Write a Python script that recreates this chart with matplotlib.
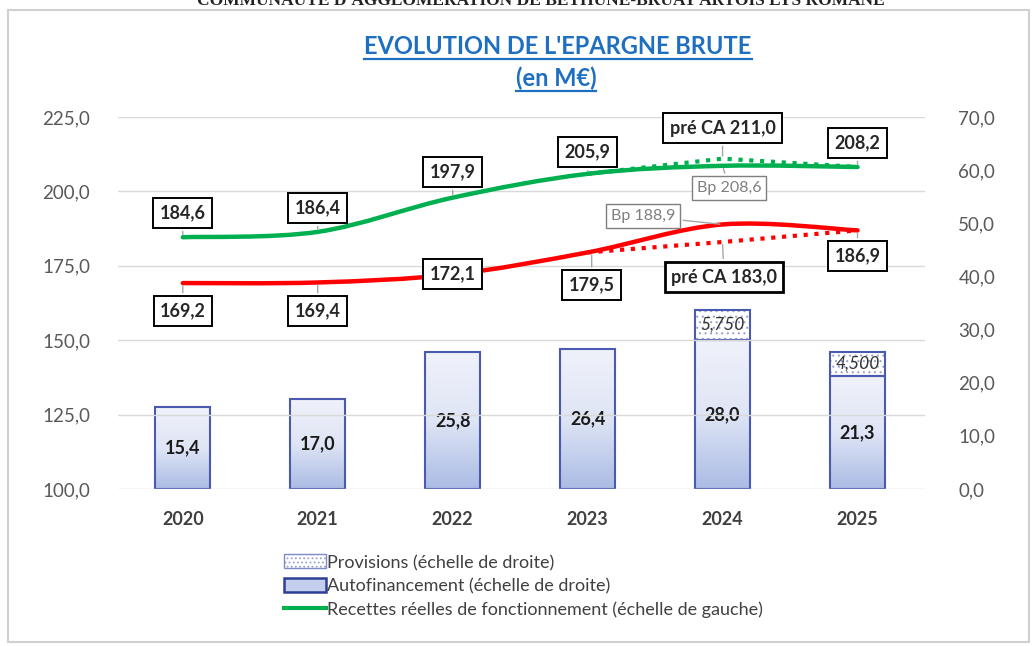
import numpy as np
import matplotlib
matplotlib.use("Agg")
import matplotlib.pyplot as plt
from matplotlib.path import Path
from matplotlib.patches import PathPatch, Rectangle, Patch
from matplotlib.lines import Line2D
from matplotlib.legend_handler import HandlerBase

plt.rcParams['font.family'] = ['Lato', 'DejaVu Sans']
plt.rcParams['hatch.linewidth'] = 0.8

# --- data (M€) ---
years = ["2020", "2021", "2022", "2023", "2024", "2025"]
autofinancement = [15.4, 17.0, 25.8, 26.4, 28.0, 21.3]
provisions = [0, 0, 0, 0, 5.750, 4.500]
recettes = [184.6, 186.4, 197.9, 205.9, 208.6, 208.2]
depenses = [169.2, 169.4, 172.1, 179.5, 188.9, 186.9]
recettes_preca = [205.9, 211.0, 208.2]
depenses_preca = [179.5, 183.0, 186.9]
preca_idx = [3, 4, 5]

GREEN = "#00B050"
RED = "#FF0000"
BAR_EDGE = "#4a5ab0"
HATCH = "#9aa4cc"
TXT = "#404040"


def smooth_path(xs, ys):
    # Catmull-Rom style bezier, like spreadsheet "smoothed line"
    xs = np.asarray(xs, float)
    ys = np.asarray(ys, float)
    pts = np.column_stack([xs, ys])
    n = len(pts)
    verts = [pts[0]]
    codes = [Path.MOVETO]
    for i in range(n - 1):
        p0 = pts[max(i - 1, 0)]
        p1 = pts[i]
        p2 = pts[i + 1]
        p3 = pts[min(i + 2, n - 1)]
        c1 = p1 + (p2 - p0) / 6.0
        c2 = p2 - (p3 - p1) / 6.0
        verts += [c1, c2, p2]
        codes += [Path.CURVE4] * 3
    return Path(verts, codes)


class DottedBoxHandler(HandlerBase):
    # legend key: light dotted fill with a blue outline
    def create_artists(self, legend, orig, xd, yd, w, h, fs, trans):
        fill = Rectangle((xd, yd), w, h, facecolor="white", edgecolor=HATCH,
                         hatch="....", lw=0, transform=trans)
        edge = Rectangle((xd, yd), w, h, fill=False, edgecolor="#7f8cc7",
                         lw=1, transform=trans)
        return [fill, edge]


W, H = 1033, 646
fig = plt.figure(figsize=(W / 100, H / 100), dpi=100)
fig.patch.set_facecolor("white")

# outer frame
fig.add_artist(Rectangle((8 / W, 1 - 642 / H), 1021 / W, 632 / H,
                         transform=fig.transFigure, fill=False,
                         edgecolor="#d0d0d0", lw=1.5))

ax = fig.add_axes([118 / W, 1 - 489 / H, (925 - 118) / W, (489 - 117) / H])
ax2 = ax.twinx()
ax.set_zorder(ax2.get_zorder() + 1)
ax.patch.set_visible(False)

x = np.arange(len(years))
ax.set_xlim(-0.48, 5.5)
ax.set_ylim(100, 225)
ax2.set_ylim(0, 70)
ax.set_yticks(np.arange(100, 226, 25))
ax2.set_yticks(np.arange(0, 71, 10))
ax.set_yticklabels([f"{v:.1f}".replace(".", ",") for v in np.arange(100, 226, 25)])
ax2.set_yticklabels([f"{v:.1f}".replace(".", ",") for v in np.arange(0, 71, 10)])
ax.set_xticks(x)
ax.set_xticklabels(years, fontweight="bold")

for a in (ax, ax2):
    for s in a.spines.values():
        s.set_visible(False)
    a.tick_params(length=0, labelsize=13.5, labelcolor="#595959")
ax.tick_params(axis="y", pad=20)
ax2.tick_params(axis="y", pad=24)
ax.tick_params(axis="x", labelcolor=TXT, labelsize=13, pad=16)
ax2.grid(False)
ax.grid(True, axis="y", color="#d9d9d9", lw=1)
ax.set_axisbelow(True)

# --- bars on the right scale ---
bw = 0.41
grad = np.linspace(0, 1, 256).reshape(-1, 1)
cmap = matplotlib.colors.LinearSegmentedColormap.from_list(
    "bar", ["#f0f2fa", "#dfe5f5", "#aabbe4"])
for i, (a_val, p_val) in enumerate(zip(autofinancement, provisions)):
    rect = Rectangle((i - bw / 2, 0), bw, a_val, facecolor="none",
                     edgecolor=BAR_EDGE, lw=1.5, zorder=3)
    ax2.add_patch(rect)
    im = ax2.imshow(grad, extent=(i - bw / 2, i + bw / 2, 0, a_val),
                    aspect="auto", cmap=cmap, origin="upper", zorder=2)
    im.set_clip_path(rect)
    ax2.text(i, a_val / 2, f"{a_val:.1f}".replace(".", ","),
             ha="center", va="center", fontsize=13, fontweight="bold",
             color="#1a1a1a", zorder=5)
    if p_val > 0:
        # dotted fill, then the outline on top
        ax2.bar(i, p_val, bw, bottom=a_val, facecolor="white",
                edgecolor=HATCH, lw=0, hatch="...", zorder=2.5)
        ax2.bar(i, p_val, bw, bottom=a_val, fill=False,
                edgecolor=BAR_EDGE, lw=1.5, zorder=3)
        ax2.text(i, a_val + p_val / 2, f"{p_val:.3f}".replace(".", ","),
                 ha="center", va="center", fontsize=12.5, style="italic",
                 color="#333333", zorder=5)
ax2.set_xlim(-0.48, 5.5)

# --- lines on the left scale ---
ax.add_patch(PathPatch(smooth_path(x, recettes), fill=False, edgecolor=GREEN,
                       lw=3.2, capstyle="round", zorder=4))
ax.add_patch(PathPatch(smooth_path(x, depenses), fill=False, edgecolor=RED,
                       lw=3.2, capstyle="round", zorder=4))
ax.plot(preca_idx, recettes_preca, color=GREEN, lw=3, ls=(0, (1, 1.6)), zorder=4)
ax.plot(preca_idx, depenses_preca, color=RED, lw=3, ls=(0, (1, 1.6)), zorder=4)

bold_box = dict(boxstyle="square,pad=0.35", fc="white", ec="black", lw=1.4)
thin_box = dict(boxstyle="square,pad=0.3", fc="white", ec="#7f7f7f", lw=1)
lead = dict(arrowstyle="-", color="#a6a6a6", lw=1)


def lab(txt, xy, xytext, box=bold_box, bold=True, size=13, color="#262626"):
    ax.annotate(txt, xy=xy, xytext=xytext, ha="center", va="center",
                fontsize=size, fontweight="bold" if bold else "normal",
                color=color, bbox=box, arrowprops=lead, zorder=6)


def fmt(v):
    return f"{v:.1f}".replace(".", ",")


rec_lab_y = [192.7, 194.4, 206.5, 213.2, None, 216.3]
dep_lab_y = [159.8, 159.8, 172.2, 168.5, None, 178.3]
for i in [0, 1, 2, 3, 5]:
    lab(fmt(recettes[i]), (i, recettes[i]), (i, rec_lab_y[i]))
    dx = 0.03 if i == 3 else 0
    lab(fmt(depenses[i]), (i + dx, depenses[i]), (i + dx, dep_lab_y[i]))

lab("pré CA " + fmt(recettes_preca[1]), (4, recettes_preca[1]), (4, 221.3))
lab("pré CA " + fmt(depenses_preca[1]), (4, depenses_preca[1]), (4.01, 171.2),
    box=dict(boxstyle="square,pad=0.35", fc="white", ec="black", lw=2))
lab("Bp " + fmt(recettes[4]), (4, recettes[4]), (4.05, 201.1), box=thin_box,
    bold=False, size=11.5, color="#7f7f7f")
lab("Bp " + fmt(depenses[4]), (4, depenses[4]), (3.41, 191.7), box=thin_box,
    bold=False, size=11.5, color="#7f7f7f")

# --- title ---
t1 = fig.text(558 / W, 1 - 46 / H, "EVOLUTION DE L'EPARGNE BRUTE", ha="center",
              va="center", fontsize=17, fontweight="bold", color="#1F6FC0")
t2 = fig.text(556 / W, 1 - 78 / H, "(en M€)", ha="center", va="center",
              fontsize=17, fontweight="bold", color="#1F6FC0")
fig.text(541 / W, 1 - 1 / H, "COMMUNAUTE D'AGGLOMERATION DE BETHUNE-BRUAY ARTOIS LYS ROMANE",
         ha="center", va="center", fontsize=12.5, fontweight="bold",
         family="Liberation Serif", color="#222222")

# --- legend ---
handles = [
    Patch(),
    Patch(facecolor="#c4cfee", edgecolor="#2f3f95", lw=1.8),
    Line2D([0], [0], color=GREEN, lw=3),
]
labels = ["Provisions (échelle de droite)", "Autofinancement (échelle de droite)",
          "Recettes réelles de fonctionnement (échelle de gauche)"]
fig.legend(handles, labels, loc="upper left", bbox_to_anchor=(284 / W, 1 - 555 / H),
           frameon=False, fontsize=13, labelcolor=TXT, handlelength=2.3,
           handleheight=0.8, handletextpad=0.1, labelspacing=0.38,
           borderaxespad=0, borderpad=0,
           handler_map={handles[0]: DottedBoxHandler()})

# underline the title lines
fig.canvas.draw()
r = fig.canvas.get_renderer()
for t in (t1, t2):
    bb = t.get_window_extent(r)
    y0 = bb.y0 - 1
    fig.add_artist(Line2D([bb.x0 / W, bb.x1 / W], [y0 / H, y0 / H],
                          transform=fig.transFigure, color="#1F6FC0", lw=1.6))

fig.savefig("out.png", dpi=100)
